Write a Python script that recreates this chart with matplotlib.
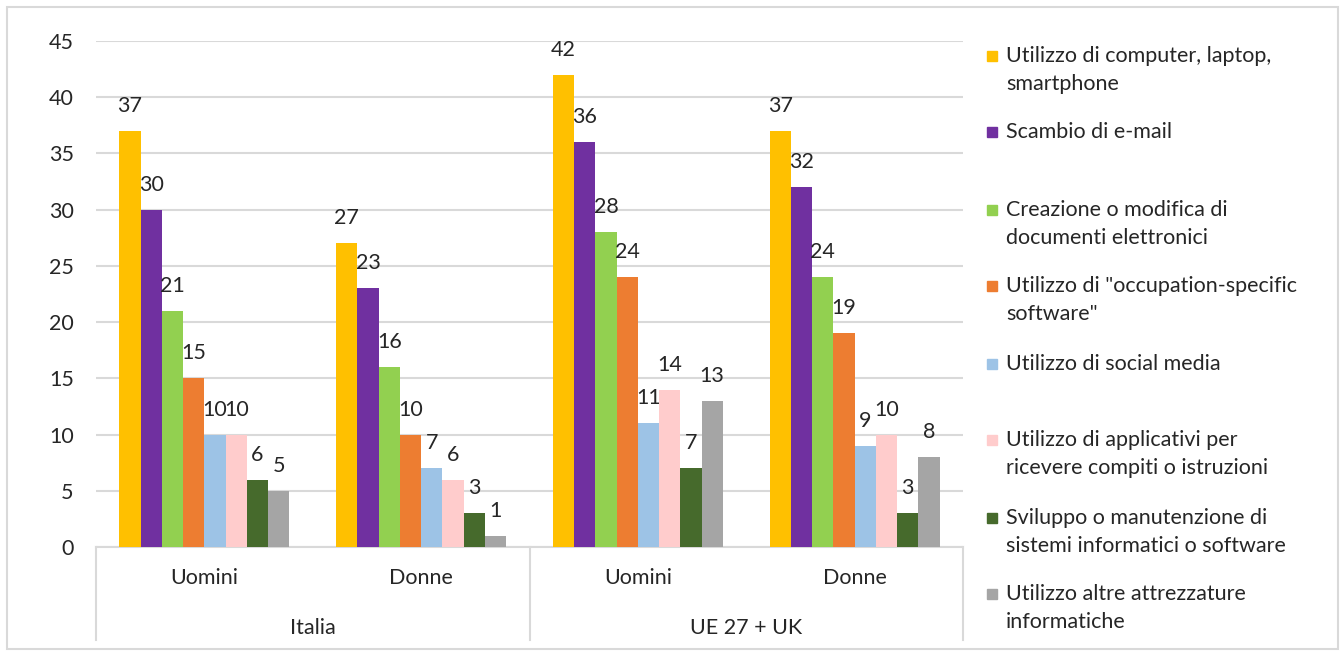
import matplotlib.pyplot as plt
import numpy as np
from matplotlib.patches import Rectangle, FancyBboxPatch
from matplotlib.lines import Line2D

plt.rcParams['font.family'] = ['Lato', 'DejaVu Sans']

sottogruppi = ["Uomini", "Donne", "Uomini", "Donne"]
aree = ["Italia", "UE 27 + UK"]

serie = [
    "Utilizzo di computer, laptop,\nsmartphone",
    "Scambio di e-mail",
    "Creazione o modifica di\ndocumenti elettronici",
    "Utilizzo di \"occupation-specific\nsoftware\"",
    "Utilizzo di social media",
    "Utilizzo di applicativi per\nricevere compiti o istruzioni",
    "Sviluppo o manutenzione di\nsistemi informatici o software",
    "Utilizzo altre attrezzature\ninformatiche",
]
colori = ["#FFC000", "#7030A0", "#92D050", "#ED7D31",
          "#9DC3E6", "#FFCCCC", "#466A2C", "#A5A5A5"]

computer = [37, 27, 42, 37]
email = [30, 23, 36, 32]
documenti = [21, 16, 28, 24]
occupation = [15, 10, 24, 19]
social = [10, 7, 11, 9]
applicativi = [10, 6, 14, 10]
sviluppo = [6, 3, 7, 3]
altre = [5, 1, 13, 8]
valori = [computer, email, documenti, occupation, social, applicativi, sviluppo, altre]

FS = 15.5
W, H = 1341, 657
fig = plt.figure(figsize=(W / 100, H / 100), dpi=100)

# cornice esterna
fig.patches.append(FancyBboxPatch((7 / W, 8 / H), 1331 / W, 642 / H,
                                  boxstyle="square,pad=0", transform=fig.transFigure,
                                  fill=False, edgecolor="#D9D9D9", lw=1.5))

ax = fig.add_axes([96 / W, 1 - 547 / H, 867 / W, 506 / H])
x = np.arange(len(sottogruppi))
bw = 0.098
n = len(serie)
for i, (vals, c) in enumerate(zip(valori, colori)):
    pos = x + (i - (n - 1) / 2) * bw
    ax.bar(pos, vals, bw, color=c, zorder=3)
    for p, v in zip(pos, vals):
        ax.annotate(str(v), (p, v), xytext=(0, 18), textcoords="offset points",
                    ha="center", va="center", fontsize=FS, color="#262626")

ax.set_xlim(-0.5, 3.5)
ax.set_ylim(0, 45)
ax.set_yticks(range(0, 46, 5))
ax.yaxis.grid(True, color="#D9D9D9", lw=1.5, zorder=0)
ax.tick_params(axis="y", length=0, labelsize=FS, labelcolor="#262626", pad=16)
ax.set_xticks([])
for s in ["top", "right", "left"]:
    ax.spines[s].set_visible(False)
ax.spines["bottom"].set_color("#D9D9D9")
ax.spines["bottom"].set_linewidth(1.5)

tr = ax.get_xaxis_transform()
for xi, lab in zip(x, sottogruppi):
    ax.text(xi, -0.061, lab, transform=tr, ha="center", va="center",
            fontsize=FS, color="#262626")
for k, lab in enumerate(aree):
    ax.text(2 * k + 0.5, -0.16, lab, transform=tr, ha="center", va="center",
            fontsize=FS, color="#262626")
for xs in [-0.5, 1.5, 3.5]:
    ax.add_line(Line2D([xs, xs], [0, -0.184], transform=tr, color="#D9D9D9",
                       lw=1.5, clip_on=False))

# legenda
legend_y = [56, 132, 210, 286, 364, 440, 518, 594]
for lab, c, y in zip(serie, colori, legend_y):
    fig.patches.append(Rectangle((987 / W, 1 - (y + 5) / H), 10 / W, 10 / H,
                                 transform=fig.transFigure, color=c))
    for j, riga in enumerate(lab.split("\n")):
        fig.text(1006 / W, 1 - (y + 28 * j) / H, riga, ha="left", va="center",
                 fontsize=FS, color="#262626")

fig.savefig("out.png", dpi=100)
